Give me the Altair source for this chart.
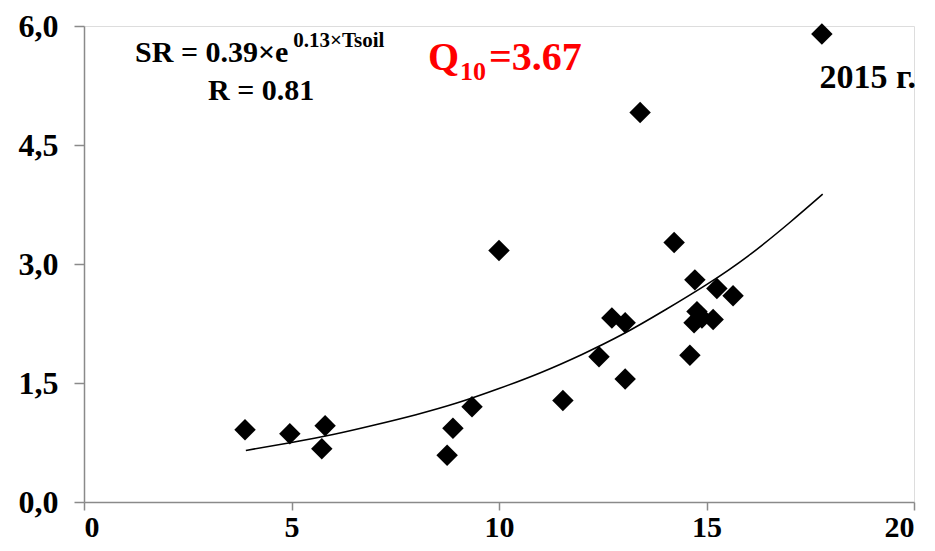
import altair as alt
import pandas as pd

# Soil temperature (x) and soil respiration (y)
tsoil = [3.88, 4.96, 5.81, 5.73, 8.75, 8.89, 9.35, 10.0, 11.54, 12.41, 12.72, 13.04,
         13.04, 13.40, 14.22, 14.60, 14.72, 14.77, 14.70, 14.89, 15.16, 15.25, 15.64, 17.78]
sr = [0.91, 0.86, 0.96, 0.67, 0.59, 0.93, 1.20, 3.17, 1.28, 1.83, 2.32, 2.26,
      1.55, 4.91, 3.27, 1.85, 2.80, 2.40, 2.26, 2.32, 2.30, 2.69, 2.60, 5.90]

# Fitted curve
curve_x = [3.9, 5, 6, 7, 8, 9, 10, 11, 12, 13, 14, 15, 16, 17, 17.8]
curve_y = [0.65, 0.75, 0.85, 0.97, 1.10, 1.25, 1.43, 1.63, 1.86, 2.12, 2.42, 2.74, 3.10, 3.52, 3.88]

x_ticks = [0, 5, 10, 15, 20]
y_ticks = [0.0, 1.5, 3.0, 4.5, 6.0]

# Annotations
ann_text = ["SR = 0.39×e", "0.13×Tsoil", "R = 0.81", "Q", "10", "=3.67", "2015 г."]
ann_x = [1.23, 5.04, 2.99, 8.29, 9.06, 9.76, 17.72]
ann_y = [5.54, 5.74, 5.07, 5.45, 5.32, 5.45, 5.22]
ann_size = [30, 21, 30, 40, 26, 40, 34]
ann_color = ["#000000", "#000000", "#000000", "#ff0000", "#ff0000", "#ff0000", "#000000"]

FONT = "Liberation Serif"

pts = pd.DataFrame({"t": tsoil, "sr": sr})
crv = pd.DataFrame({"t": curve_x, "sr": curve_y})
ann = pd.DataFrame({"txt": ann_text, "x": ann_x, "y": ann_y, "fs": ann_size, "c": ann_color})

xscale = alt.Scale(domain=[0, 20], nice=False, zero=True)
yscale = alt.Scale(domain=[0, 6], nice=False, zero=True)

xaxis = alt.Axis(values=x_ticks, format="d", title=None, grid=False,
                 domainColor="#8a8a8a", tickColor="#8a8a8a", tickSize=8, tickWidth=1.5, domainWidth=1.5,
                 labelFont=FONT, labelFontWeight="bold", labelFontSize=30, labelColor="#000000",
                 labelPadding=2)
yaxis = alt.Axis(values=y_ticks, format=".1f", labelExpr="replace(datum.label, '.', ',')",
                 title=None, grid=False,
                 domainColor="#8a8a8a", tickColor="#8a8a8a", tickSize=10, tickWidth=1.5, domainWidth=1.5,
                 labelFont=FONT, labelFontWeight="bold", labelFontSize=32, labelColor="#000000",
                 labelPadding=16)

points = alt.Chart(pts).mark_point(shape="diamond", filled=True, color="#000000", opacity=1, size=460).encode(
    x=alt.X("t:Q", scale=xscale, axis=xaxis),
    y=alt.Y("sr:Q", scale=yscale, axis=yaxis),
)

line = alt.Chart(crv).mark_line(color="#000000", strokeWidth=1.6, interpolate="natural").encode(
    x=alt.X("t:Q", scale=xscale),
    y=alt.Y("sr:Q", scale=yscale),
)

texts = alt.Chart(ann).mark_text(align="left", baseline="alphabetic", font=FONT, fontWeight="bold").encode(
    x=alt.X("x:Q", scale=xscale),
    y=alt.Y("y:Q", scale=yscale),
    text="txt:N",
    size=alt.Size("fs:Q", scale=None),
    color=alt.Color("c:N", scale=None),
)

chart = alt.layer(line, points, texts).properties(
    width=830, height=476,
    autosize=alt.AutoSizeParams(type="none"),
    padding={"left": 76, "top": 18, "right": 13, "bottom": 41},
).configure_view(stroke=None).configure(background="#ffffff")

chart.save("out.html", embed_options={"renderer": "svg", "actions": False})
